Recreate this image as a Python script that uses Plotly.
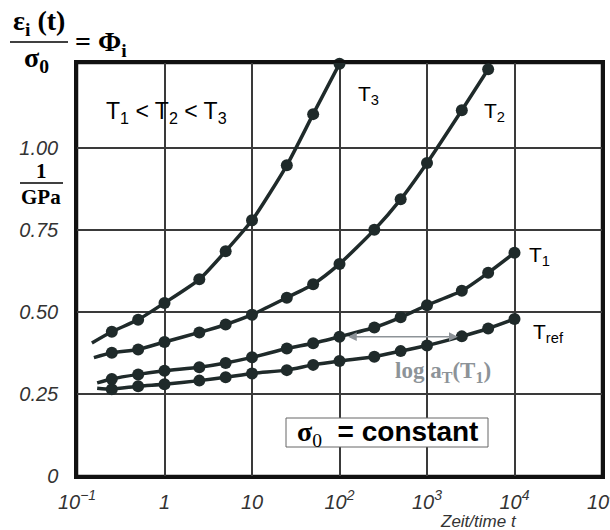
import plotly.graph_objects as go
import math

# ---------------- data ----------------
t_points = [0.25, 0.5, 1, 2.5, 5, 10, 25, 50, 100, 250, 500, 1000, 2500, 5000, 10000]

tref_start = (0.17, 0.268)
tref_vals = [0.265, 0.274, 0.280, 0.291, 0.301, 0.313, 0.323, 0.339, 0.351, 0.364,
             0.381, 0.398, 0.426, 0.450, 0.479]

t1_start = (0.17, 0.284)
t1_vals = [0.296, 0.310, 0.321, 0.332, 0.345, 0.362, 0.389, 0.405, 0.425, 0.453,
           0.484, 0.521, 0.565, 0.620, 0.681]

t2_start = (0.156, 0.361)
t2_vals = [0.376, 0.386, 0.409, 0.438, 0.462, 0.492, 0.544, 0.585, 0.647, 0.751,
           0.844, 0.955, 1.116, 1.241]

t3_start = (0.148, 0.406)
t3_vals = [0.440, 0.477, 0.528, 0.600, 0.686, 0.780, 0.948, 1.104, 1.258]

x_tickvals = [0.1, 1, 10, 100, 1000, 10000, 100000]
x_ticktext = ["10<sup>−1</sup>", "1", "10", "10<sup>2</sup>", "10<sup>3</sup>",
              "10<sup>4</sup>", "10<sup>5</sup>"]
y_tickvals = [0, 0.25, 0.5, 0.75, 1.0]
y_ticktext = ["0", "0.25", "0.50", "0.75", "1.00"]

curve_names = ["T<sub>ref</sub>", "T<sub>1</sub>", "T<sub>2</sub>", "T<sub>3</sub>"]

# ---------------- layout geometry ----------------
W, H = 610, 530
L, R, T, B = 77, 602, 63, 476  # plot area in pixels


def px(x, y):
    return (x - L) / (R - L), (B - y) / (B - T)


CURVE = "#1f2a2a"
SERIF = "Liberation Serif, Times New Roman, serif"
SANS = "Liberation Sans, Arial, sans-serif"

fig = go.Figure()

series = [(tref_start, tref_vals), (t1_start, t1_vals), (t2_start, t2_vals), (t3_start, t3_vals)]
for (start, vals), name in zip(series, curve_names):
    xs = [start[0]] + t_points[:len(vals)]
    ys = [start[1]] + vals
    fig.add_trace(go.Scatter(
        x=xs, y=ys, mode="lines", name=name,
        line=dict(color=CURVE, width=3.5, shape="spline", smoothing=0.6),
        cliponaxis=False, showlegend=False, hoverinfo="skip"))
    fig.add_trace(go.Scatter(
        x=t_points[:len(vals)], y=vals, mode="markers", name=name,
        marker=dict(color=CURVE, size=12),
        cliponaxis=False, showlegend=False))

fig.update_xaxes(
    type="log", range=[-1, 5],
    tickvals=x_tickvals, ticktext=x_ticktext,
    tickfont=dict(family=SANS, size=20, color="#333333", style="italic"),
    showgrid=True, gridcolor="#3a3a3a", gridwidth=1.5,
    showline=True, mirror=True, linecolor="#111111", linewidth=2.5,
    ticks="", ticklabelstandoff=6, zeroline=False, ticklabeloverflow="allow",
    automargin=False,
)
fig.update_yaxes(
    range=[0, 1.26],
    tickvals=y_tickvals, ticktext=y_ticktext,
    tickfont=dict(family=SANS, size=20, color="#333333", style="italic"),
    showgrid=True, gridcolor="#3a3a3a", gridwidth=1.5,
    showline=True, mirror=True, linecolor="#111111", linewidth=2.5,
    ticks="", ticklabelstandoff=12, zeroline=False, automargin=False,
)

annotations = []
shapes = []

# plot frame
shapes.append(dict(type="rect", xref="paper", yref="paper", x0=0, x1=1, y0=0, y1=1,
                   line=dict(color="#111111", width=2.5), layer="below"))


def text(x, y, s, size, family=SANS, color="black", xanchor="center", yanchor="middle"):
    xp, yp = px(x, y)
    annotations.append(dict(x=xp, y=yp, xref="paper", yref="paper", text=s,
                            showarrow=False, xanchor=xanchor, yanchor=yanchor,
                            font=dict(family=family, size=size, color=color)))


def hline(x0, x1, y, color="black", width=1.5):
    a0, b0 = px(x0, y)
    a1, _ = px(x1, y)
    shapes.append(dict(type="line", xref="paper", yref="paper", x0=a0, x1=a1, y0=b0, y1=b0,
                       line=dict(color=color, width=width)))


# y-axis title: eps_i(t)/sigma_0 = Phi_i
text(39, 22, "<b>ε<sub>i</sub> (t)</b>", 28, SERIF)
hline(10, 68, 42)
text(36, 60, "<b>σ<sub>0</sub></b>", 28, SERIF)
text(101, 44, "<b>= Φ<sub>i</sub></b>", 28, SERIF)

# unit 1/GPa
text(41, 171, "<b>1</b>", 21, SERIF)
hline(20, 63, 183)
text(41, 197, "<b>GPa</b>", 21, SERIF)

# x-axis title
text(478, 521, "<i>Zeit/time t</i>", 17, SANS, "#333333")

# T1 < T2 < T3
text(166, 112, "T<sub>1</sub> &lt; T<sub>2</sub> &lt; T<sub>3</sub>", 23, SANS)

# curve labels
text(368, 95, curve_names[3], 21, SANS)
text(494, 112, curve_names[2], 21, SANS)
text(539, 256, curve_names[1], 21, SANS)
text(548, 333, curve_names[0], 21, SANS)

# shift arrow
annotations.append(dict(
    x=math.log10(t_points[12] * 0.9), y=t1_vals[8], xref="x", yref="y",
    ax=math.log10(t_points[8] * 1.2), ay=t1_vals[8], axref="x", ayref="y",
    text="", showarrow=True, arrowhead=2, arrowsize=1.1, arrowwidth=1.6,
    arrowside="end+start", arrowcolor="#8d9398"))
text(443, 372, "<b>log a<sub>T</sub>(T<sub>1</sub>)</b>", 23, SERIF, "#8d9398")

# constant stress box
b0x, b0y = px(286, 447)
b1x, b1y = px(488, 418)
shapes.append(dict(type="rect", xref="paper", yref="paper", x0=b0x, x1=b1x, y0=b0y, y1=b1y,
                   fillcolor="white", line=dict(color="#666666", width=1), layer="above"))
text(387, 433,
     "<span style='font-family:Liberation Serif'><b>σ</b><sub>0</sub></span><b>  = constant</b>",
     28, SANS)

fig.update_layout(
    width=W, height=H,
    margin=dict(l=L, r=W - R, t=T, b=H - B, pad=0, autoexpand=False),
    paper_bgcolor="white", plot_bgcolor="white",
    annotations=annotations, shapes=shapes,
    showlegend=False,
)

fig.write_html("out.html", config={"displayModeBar": False},
               post_script="document.body.style.margin='0';")
